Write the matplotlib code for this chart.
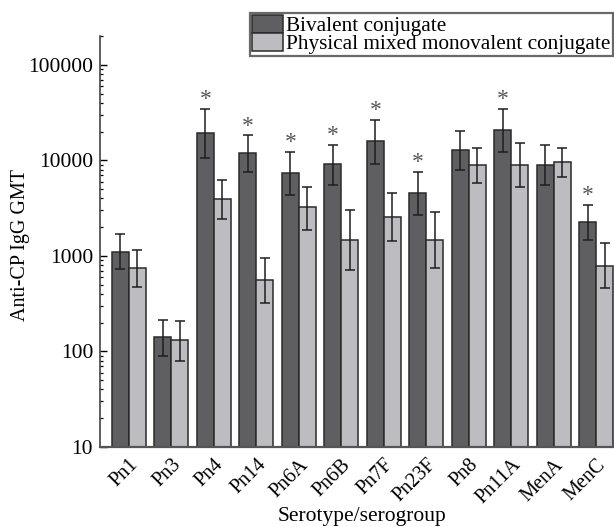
import numpy as np
import matplotlib
matplotlib.use("Agg")
import matplotlib.pyplot as plt

plt.rcParams['font.family'] = ['Liberation Serif', 'DejaVu Serif']

# data (log scale)
groups = ["Pn1", "Pn3", "Pn4", "Pn14", "Pn6A", "Pn6B", "Pn7F", "Pn23F",
          "Pn8", "Pn11A", "MenA", "MenC"]
biv = [1110, 141, 19500, 12000, 7350, 9050, 15900, 4500, 12900, 20800, 9000, 2250]
biv_hi = [1710, 214, 34600, 18300, 12200, 14600, 26500, 7630, 20400, 34800, 14500, 3420]
biv_lo = [726, 90, 10700, 7630, 4350, 5540, 9190, 2660, 7960, 12200, 5540, 1470]
mono = [743, 131, 3920, 561, 3240, 1480, 2580, 1480, 8970, 8970, 9720, 791]
mono_hi = [1140, 210, 6250, 960, 5320, 3050, 4600, 2910, 13600, 15300, 13600, 1360]
mono_lo = [477, 80, 2440, 324, 1870, 713, 1440, 743, 5860, 5280, 6770, 466]
signif = [False, False, True, True, True, True, True, True, False, True, False, True]

dark = "#5f5f62"
light = "#bdbdc1"

fig = plt.figure(figsize=(6.14, 5.27), dpi=100)
ax = fig.add_axes([100/614, 1-447/527, 522/614, (447-36)/527])

x = np.arange(len(groups))
w = 0.4
biv = np.array(biv); mono = np.array(mono)
err_b = [biv - np.array(biv_lo), np.array(biv_hi) - biv]
err_m = [mono - np.array(mono_lo), np.array(mono_hi) - mono]

ax.bar(x - w/2, biv, w, color=dark, edgecolor="#2a2a2a", linewidth=1.1,
       label="Bivalent conjugate", zorder=2)
ax.bar(x + w/2, mono, w, color=light, edgecolor="#2a2a2a", linewidth=1.1,
       label="Physical mixed monovalent conjugate", zorder=2)
ax.errorbar(x - w/2, biv, yerr=err_b, fmt="none", ecolor="#1e1e1e",
            elinewidth=1.1, capsize=3.6, capthick=1.1, zorder=3)
ax.errorbar(x + w/2, mono, yerr=err_m, fmt="none", ecolor="#1e1e1e",
            elinewidth=1.1, capsize=3.6, capthick=1.1, zorder=3)

for i, s in enumerate(signif):
    if s:
        ax.annotate("*", (x[i] - w/2, biv_hi[i]), xytext=(0, -1),
                    textcoords="offset points", ha="center", va="bottom",
                    fontsize=17, color="#555555")

ax.set_yscale("log")
ax.set_ylim(10, 2.0e5)
ax.set_xlim(-0.68, 11.6)
ax.set_yticks([10, 100, 1000, 10000, 100000])
ax.set_yticklabels(["10", "100", "1000", "10000", "100000"])
ax.tick_params(axis="y", which="major", direction="in", length=5, width=1,
               labelsize=15.5, pad=5)
ax.tick_params(axis="y", which="minor", direction="in", length=2.5, width=0.9)
ax.set_xticks(x)
ax.set_xticklabels(groups, rotation=45, ha="right", rotation_mode="anchor")
ax.tick_params(axis="x", length=0, labelsize=14.5, pad=6)

for side in ["top", "right"]:
    ax.spines[side].set_visible(False)
ax.spines["left"].set_color("#333333")
ax.spines["bottom"].set_color("#555555")
ax.spines["left"].set_linewidth(1.1)
ax.spines["bottom"].set_linewidth(1.6)

fig.text(21/614, 1-245/527, "Anti-CP IgG GMT", rotation=90, ha="center",
         va="center", fontsize=14.5)
fig.text(362/614, 1-517/527, "Serotype/serogroup", ha="center", va="center",
         fontsize=15.5)

leg = fig.legend(loc="upper left", bbox_to_anchor=(250/614, 1-13/527),
                 fontsize=15.3, frameon=True, fancybox=False, borderpad=0.1,
                 labelspacing=-0.15, handlelength=1.45, handleheight=0.9,
                 handletextpad=0.15, borderaxespad=0)
leg.get_frame().set_edgecolor("#444444")
leg.get_frame().set_linewidth(1.6)

fig.savefig("out.png", dpi=100)
